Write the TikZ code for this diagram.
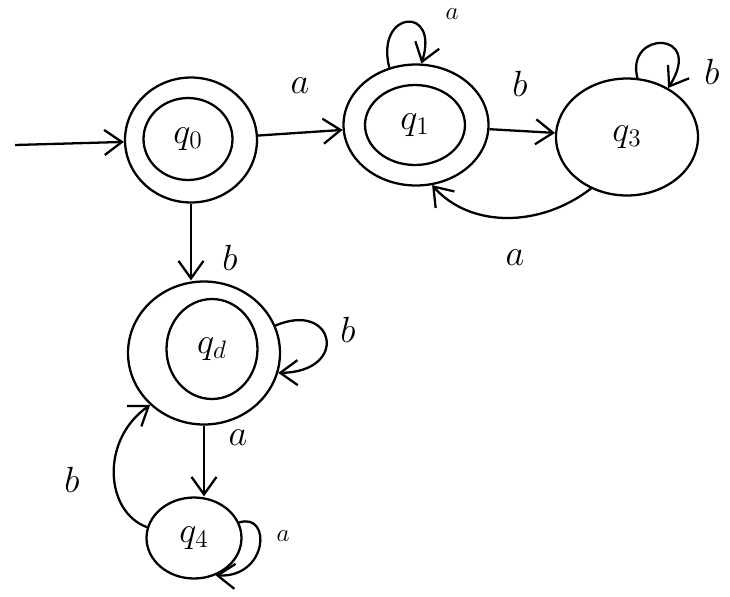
\documentclass[tikz,border=0pt]{standalone}
\usetikzlibrary{shapes.geometric,arrows.meta}

\tikzset{
  etat/.style={draw,ellipse,line width=1.3pt,inner sep=0pt},
  fleche/.style={line width=1.3pt,-{Straight Barb[length=3.5mm,width=5mm]}},
  lettre/.style={font=\huge},
  petite/.style={font=\Large}
}

\begin{document}
\begin{tikzpicture}[x=0.02cm,y=-0.02cm]
\useasboundingbox (0,0) rectangle (730,596);

% Etat q0
\node[etat,minimum width=2.64cm,minimum height=2.5cm] (q0) at (191,140) {};
\node[etat,minimum width=1.78cm,minimum height=1.64cm,lettre] (q0in) at (188,139) {$q_0$};
\coordinate (depart) at (15,145);
\draw[fleche] (depart) -- (q0);

% Etat q1
\node[etat,minimum width=2.9cm,minimum height=2.42cm] (q1) at (416,125) {};
\node[etat,minimum width=2cm,minimum height=1.6cm,lettre] (q1in) at (415,125) {$q_1$};

% Etat q3
\node[etat,minimum width=2.84cm,minimum height=2.34cm,lettre] (q3) at (627,137) {$q_3$};

% Etat qd
\node[etat,minimum width=3.04cm,minimum height=2.86cm] (qd) at (204,353) {};
\node[etat,minimum width=1.82cm,minimum height=2cm,lettre] (qdin) at (212,349) {$q_d$};

% Etat q4
\node[etat,minimum width=1.9cm,minimum height=1.62cm,lettre] (q4) at (194,538) {$q_4$};

% Transitions
\draw[fleche] (q0) -- (q1);
\draw[fleche] (q1) -- (q3);
\draw[fleche] (q0.south) -- (q0.south |- qd.north);
\draw[fleche] (qd.south) -- (qd.south |- q4.north);
\draw[fleche] (q3.235) .. controls (540,228) and (470,228) .. (q1.285);
\draw[fleche] (q4.167) .. controls (105,512) and (100,440) .. (qd.224);

% Boucles
\draw[fleche] (q1.115) .. controls (375,10) and (440,5) .. (q1.85);
\draw[fleche] (q3.80) .. controls (625,30) and (705,30) .. (q3.50);
\draw[fleche] (qd.21) .. controls (335,300) and (350,372) .. (qd.345);
\draw[fleche] (q4.19) .. controls (272,512) and (268,578) .. (q4.300);

% Etiquettes
\node[lettre] (e01) at (300,86) {$a$};
\node[lettre] (e13) at (520,84) {$b$};
\node[lettre] (e31) at (515,258) {$a$};
\node[lettre] (e0d) at (230,258) {$b$};
\node[lettre] (ed4) at (238,438) {$a$};
\node[lettre] (e4d) at (72,480) {$b$};
\node[lettre] (edd) at (348,330) {$b$};
\node[lettre] (e33) at (712,72) {$b$};
\node[petite] (e11) at (452,14) {$a$};
\node[petite] (e44) at (283,536) {$a$};

\end{tikzpicture}
\end{document}
